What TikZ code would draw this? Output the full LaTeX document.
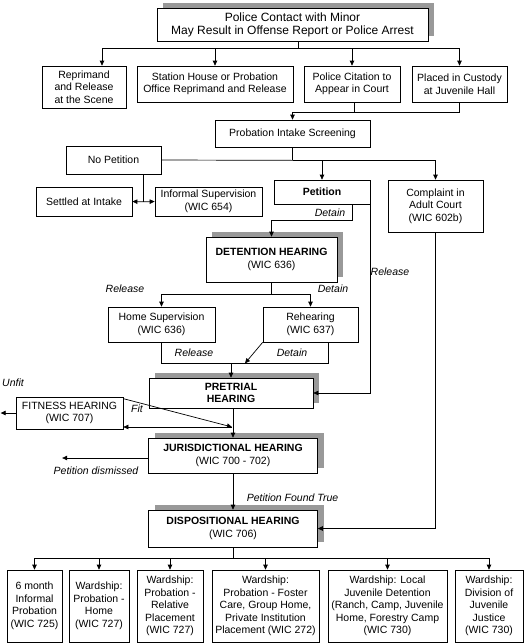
\documentclass[tikz,border=0pt]{standalone}
\usepackage{fontspec}
\setmainfont{Liberation Sans}
\usetikzlibrary{arrows.meta, shadows}
\tikzset{
>={Stealth[length=5pt, width=4.5pt, inset=0pt]}, % small solid arrow heads
box/.style={draw, align=center, inner sep=1pt, font=\fontsize{10.5}{12.5}\selectfont}, % plain boxes
hearing/.style={box, fill=white, drop shadow={shadow xshift=6pt, shadow yshift=5pt, fill=black!40, opacity=1}}, % boxes with a grey shadow
lbl/.style={font=\fontsize{10.5}{12.5}\selectfont\itshape}, % italic texts beside the arrows
}

\begin{document}
\begin{tikzpicture}[x=1pt, y=-1pt, line width=0.7pt]
  \useasboundingbox (0,0) rectangle (526,643);
  % police contact
  \node[hearing, font=\fontsize{12}{13}\selectfont, minimum width=271pt, minimum height=33pt] (top) at (292.5,24.5) {Police Contact with Minor\\May Result in Offense Report or Police Arrest};
  \node[box, minimum width=84pt, minimum height=42pt] (scene) at (84,87) {Reprimand\\and Release\\at the Scene};
  \node[box, minimum width=156pt, minimum height=36pt] (station) at (215,84) {Station House or Probation\\Office Reprimand and Release};
  \node[box, minimum width=96pt, minimum height=36pt] (citation) at (352,84) {Police Citation to\\Appear in Court};
  \node[box, minimum width=95pt, minimum height=36pt] (custody) at (459.5,84) {Placed in Custody\\at Juvenile Hall};
  % intake
  \node[box, minimum width=155pt, minimum height=27pt] (intake) at (292.5,133.5) {Probation Intake Screening};
  \node[box, minimum width=95pt, minimum height=28pt] (nopet) at (113.5,160) {No Petition};
  \node[box, minimum width=96pt, minimum height=29pt] (settled) at (84,201.5) {Settled at Intake};
  \node[box, minimum width=107pt, minimum height=29pt] (informal) at (208.5,201.5) {Informal Supervision\\(WIC 654)};
  \node[box, font=\fontsize{10.5}{12.5}\selectfont\bfseries, minimum width=96pt, minimum height=24pt] (petition) at (322,192) {Petition};
  \node[box, minimum width=95pt, minimum height=52pt] (complaint) at (435.5,206) {Complaint in\\Adult Court\\(WIC 602b)};
  % hearings
  \node[hearing, minimum width=131pt, minimum height=45pt] (detention) at (271.5,259.5) {\textbf{DETENTION HEARING}\\(WIC 636)};
  \node[box, minimum width=107pt, minimum height=35pt] (homesup) at (161.5,324.5) {Home Supervision\\(WIC 636)};
  \node[box, minimum width=95pt, minimum height=35pt] (rehear) at (310.5,324.5) {Rehearing\\(WIC 637)};
  \node[hearing, font=\fontsize{10.5}{12.5}\selectfont\bfseries, minimum width=164pt, minimum height=30pt] (pretrial) at (231,393) {PRETRIAL\\HEARING};
  \node[box, minimum width=107pt, minimum height=32pt] (fitness) at (69.5,413) {FITNESS HEARING\\(WIC 707)};
  \node[hearing, minimum width=169pt, minimum height=35pt] (juris) at (233,455.5) {\textbf{JURISDICTIONAL HEARING}\\(WIC 700 - 702)};
  \node[hearing, minimum width=169pt, minimum height=37pt] (dispo) at (233,528.5) {\textbf{DISPOSITIONAL HEARING}\\(WIC 706)};
  % dispositions
  \node[box, minimum width=55pt, minimum height=72pt] (b1) at (34.5,606) {6 month\\Informal\\Probation\\(WIC 725)};
  \node[box, minimum width=60pt, minimum height=72pt] (b2) at (99,606) {Wardship:\\Probation -\\Home\\(WIC 727)};
  \node[box, minimum width=66pt, minimum height=72pt] (b3) at (170,606) {Wardship:\\Probation -\\Relative\\Placement\\(WIC 727)};
  \node[box, minimum width=107pt, minimum height=72pt] (b4) at (265.5,606) {Wardship:\\Probation - Foster\\Care, Group Home,\\Private Institution\\Placement (WIC 272)};
  \node[box, minimum width=119pt, minimum height=72pt] (b5) at (387.5,606) {Wardship: Local\\Juvenile Detention\\(Ranch, Camp, Juvenile\\Home, Forestry Camp\\(WIC 730)};
  \node[box, minimum width=68pt, minimum height=72pt] (b6) at (489,606) {Wardship:\\Division of\\Juvenile\\Justice\\(WIC 730)};
  % labels
  \node[lbl] (ldetain1) at (330,213) {Detain};
  \node[lbl] (lrelease1) at (390,272) {Release};
  \node[lbl] (lrelease2) at (125,289) {Release};
  \node[lbl] (ldetain2) at (333,289) {Detain};
  \node[lbl] (lrelease3) at (194,353) {Release};
  \node[lbl] (ldetain3) at (292,353) {Detain};
  \node[lbl] (lunfit) at (13,383) {Unfit};
  \node[lbl] (lfit) at (137,409) {Fit};
  \node[lbl] (ldismissed) at (96,471) {Petition dismissed};
  \node[lbl] (ltrue) at (292.5,498) {Petition Found True};
  % connectors
  \draw ([xshift=5.5pt]top.south) -- ++(0,7) coordinate (t1);
  \draw[->] (t1) -| ([xshift=18pt]scene.north);
  \foreach \n in {station,citation,custody}
    \draw[->] (t1) -| (\n.north);
  \draw (custody.south) -- ++(0,10) coordinate (j2) -| ([xshift=2pt]citation.south);
  \draw[->] (j2) -| (intake.north);
  \draw (intake.south) -- ++(0,13) coordinate (j3) -- (nopet.east);
  \draw[->] (j3) -| (petition.north);
  \draw[->] (j3) -| (complaint.north);
  \draw ([xshift=29.5pt]nopet.south) -- ++(0,27.5) coordinate (j4);
  \draw[->] (j4) -- (settled.east);
  \draw[->] (j4) -- (informal.west);
  \draw[->] ([xshift=30pt]petition.south) -- ++(0,16) -| (detention.north);
  \draw[->] (petition.south east) |- (pretrial.east);
  \draw[->] (complaint.south) |- (dispo.east);
  \draw (detention.south) -- ++(0,12) coordinate (j5);
  \draw[->] (j5) -| (homesup.north);
  \draw[->] (j5) -| (rehear.north);
  \draw (homesup.south) -- ++(0,21) coordinate (j6) -| ([xshift=17.5pt]rehear.south);
  \draw[->] (pretrial.north |- j6) -- (pretrial.north);
  \draw[->] (rehear.south west) -- ([xshift=14pt]pretrial.north |- j6);
  \draw[->] (pretrial.south -| juris.north) -- (juris.north);
  \coordinate (f1) at (232,427);
  \draw[->] ([yshift=-2pt]fitness.north east) -- (f1);
  \draw[->] (f1) -- (f1 -| fitness.east);
  \draw[->] (fitness.west) -- ++(-15,0);
  \draw[->] ([yshift=-2.5pt]juris.west) -- ++(-86,0);
  \draw[->] (juris.south) -- (dispo.north);
  \draw (dispo.south) -- ++(0,11) coordinate (j7);
  \foreach \n in {b1,b2,b3,b4,b5,b6}
    \draw[->] (j7) -| (\n.north);
\end{tikzpicture}
\end{document}
